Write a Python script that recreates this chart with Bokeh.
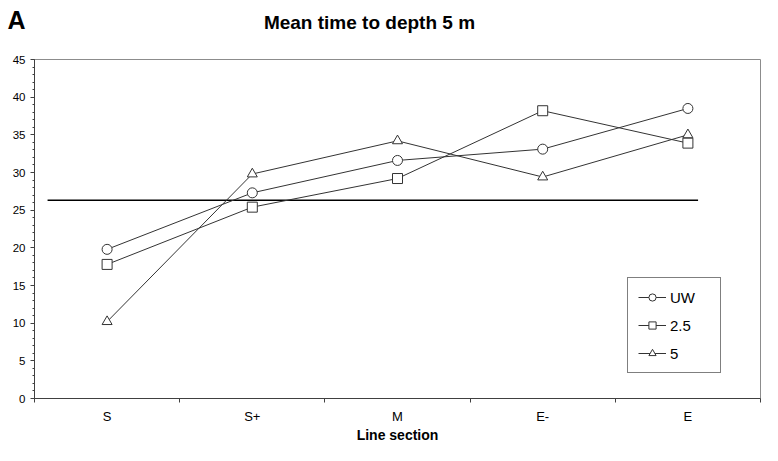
import numpy as np
from bokeh.plotting import figure
from bokeh.models import (Range1d, FixedTicker, SingleIntervalTicker, Label,
                          Legend, LegendItem)
from bokeh.embed import file_html
from bokeh.resources import INLINE

# ---- data -------------------------------------------------------------
sections = ["S", "S+", "M", "E-", "E"]
uw_values = [19.8, 27.3, 31.6, 33.1, 38.5]
v25_values = [17.8, 25.4, 29.2, 38.2, 33.9]
v5_values = [10.2, 29.8, 34.2, 29.4, 35.0]
series_names = ["UW", "2.5", "5"]
overall_mean = 26.3
mean_line_extent = [0.09, 4.57]  # in category-index units
y_ticks_major = 5

FONT = "Liberation Sans"
DARK = "#333333"

centers = np.arange(len(sections)) + 0.5
boundaries = list(np.arange(len(sections) + 1).astype(float))

p = figure(width=762, height=445, output_backend="svg", toolbar_location=None,
           x_range=Range1d(0, len(sections)), y_range=Range1d(0, 45),
           min_border_left=34, min_border_right=2, min_border_top=59,
           min_border_bottom=43)
p.background_fill_color = "white"
p.border_fill_color = "white"
p.outline_line_color = "#8c8c8c"
p.xgrid.visible = False
p.ygrid.visible = False

# mean reference line
p.line(x=mean_line_extent, y=[overall_mean, overall_mean], line_color="black",
       line_width=1.5)

markers = ["circle", "square", "triangle"]
all_vals = [uw_values, v25_values, v5_values]
items = []
for name, vals, mk in zip(series_names, all_vals, markers):
    r1 = p.line(x=centers, y=vals, line_color=DARK, line_width=1)
    r2 = p.scatter(x=centers, y=vals, marker=mk, size=10, line_color=DARK,
                   fill_color="white", line_width=1)
    items.append(LegendItem(label=name, renderers=[r1, r2]))

legend = Legend(items=items, location=(593, 25), margin=0,
                border_line_color="black", border_line_width=1,
                background_fill_color="white", background_fill_alpha=1,
                padding=10, spacing=10, glyph_height=18, label_height=18,
                glyph_width=28, label_standoff=4, label_width=40,
                label_text_font=FONT, label_text_font_size="15px",
                label_text_color="black")
p.add_layout(legend, "center")

# axes
xa = p.xaxis[0]
xa.ticker = FixedTicker(ticks=list(centers), minor_ticks=boundaries)
xa.major_label_overrides = {float(c): s for c, s in zip(centers, sections)}
xa.major_tick_out = 0
xa.major_tick_in = 0
xa.minor_tick_out = 4
xa.minor_tick_in = 0
xa.minor_tick_line_color = "#404040"
xa.axis_line_color = "#404040"
xa.major_label_standoff = 6
xa.major_label_text_font = FONT
xa.major_label_text_font_size = "13px"
xa.major_label_text_color = "black"
xa.axis_label = "Line section"
xa.axis_label_text_font = FONT
xa.axis_label_text_font_size = "14px"
xa.axis_label_text_font_style = "bold"
xa.axis_label_text_color = "black"
xa.axis_label_standoff = 0

ya = p.yaxis[0]
ya.ticker = SingleIntervalTicker(interval=y_ticks_major, num_minor_ticks=5)
ya.major_tick_out = 4
ya.major_tick_in = 0
ya.minor_tick_out = 2
ya.minor_tick_in = 0
ya.axis_line_color = "#404040"
ya.major_tick_line_color = "#404040"
ya.minor_tick_line_color = "#404040"
ya.major_label_standoff = 5
ya.major_label_text_font = FONT
ya.major_label_text_font_size = "11.5px"
ya.major_label_text_color = "black"

# title & panel letter: placed in the top panel (not clipped to the frame),
# positioned in data units relative to the plot scales
p.add_layout(Label(x=2.307, y=49.9, text="Mean time to depth 5 m",
                   text_align="center", text_baseline="middle",
                   text_font=FONT, text_font_size="19px",
                   text_font_style="bold", text_color="black"), "above")
p.add_layout(Label(x=-0.186, y=50.3, text="A", text_align="left",
                   text_baseline="middle", text_font=FONT,
                   text_font_size="25px", text_font_style="bold",
                   text_color="black"), "above")

open("out.html", "w").write(file_html(p, INLINE))
